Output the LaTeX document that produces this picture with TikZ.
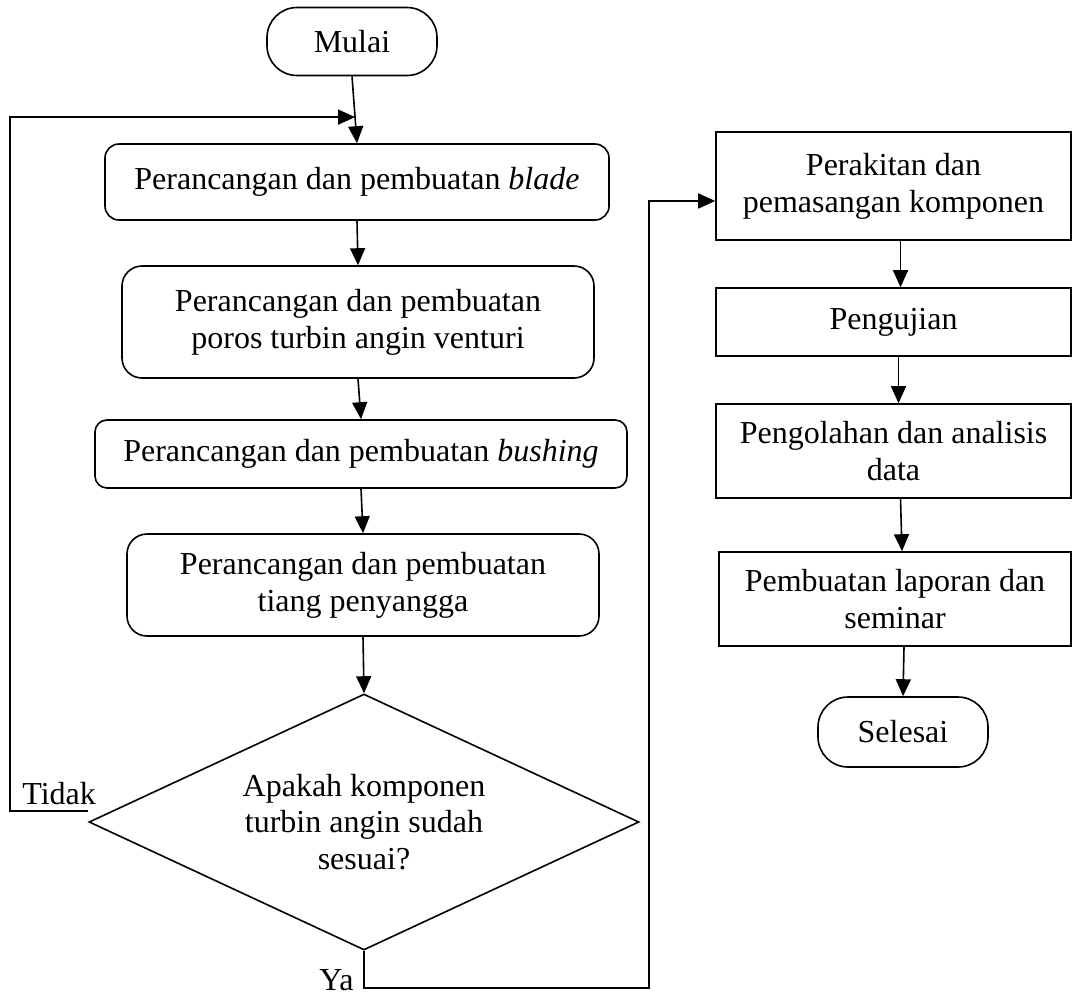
\documentclass[tikz,border=0pt]{standalone}
\usepackage{fontspec}
\setmainfont{Liberation Serif}
\usetikzlibrary{arrows.meta,shapes.geometric,calc}
\begin{document}
\begin{tikzpicture}[x=0.5pt,y=-0.5pt,
  font=\fontsize{16}{18.4}\selectfont,
  base/.style={draw,line width=0.8pt,align=center,inner sep=0pt},
  rbox/.style={base,rounded corners=7pt},
  sbox/.style={base,minimum width=177.5pt},
  term/.style={base,rounded corners=15pt,minimum width=85pt,minimum height=34pt},
  arr/.style={line width=0.8pt,-{Triangle[length=8.5pt,width=7.5pt]}},
  ln/.style={line width=0.8pt}]
\useasboundingbox (0,0) rectangle (1074,996);

% left column
\node[term] (mulai) at (352,41.5) {Mulai};
\node[rbox,minimum width=252pt,minimum height=38pt] (blade) at (357,182) {Perancangan dan pembuatan \textit{blade}};
\node[rbox,rounded corners=10pt,minimum width=236pt,minimum height=56pt] (poros) at (358,322) {Perancangan dan pembuatan\\poros turbin angin venturi};
\node[rbox,rounded corners=6pt,minimum width=266pt,minimum height=34pt] (bush) at (361,454) {Perancangan dan pembuatan \textit{bushing}};
\node[rbox,rounded corners=10pt,minimum width=236pt,minimum height=51pt] (tiang) at (363,585) {Perancangan dan pembuatan\\tiang penyangga};
\node[base,diamond,aspect=2.15,minimum width=275pt,minimum height=128pt] (dec) at (364,822) {Apakah komponen\\turbin angin sudah\\sesuai?};

% right column
\node[sbox,minimum height=54pt] (rakit) at (893.5,186) {Perakitan dan\\pemasangan komponen};
\node[sbox,minimum height=34pt] (uji) at (893.5,322) {Pengujian};
\node[sbox,minimum height=47pt] (olah) at (893.5,451) {Pengolahan dan analisis\\data};
\node[sbox,minimum width=176pt,minimum height=47pt] (lapor) at (895,599) {Pembuatan laporan dan\\seminar};
\node[term,minimum height=35pt] (selesai) at (903,732) {Selesai};

% labels
\node[anchor=base west,inner sep=0pt] (tidak) at (22,804) {Tidak};
\node[anchor=base west,inner sep=0pt] (ya) at (319,990) {Ya};

% helper coordinates
\coordinate (join) at ($(mulai.south)!0.61!(blade.north)$);
\coordinate (tdk) at (88,811);
\coordinate (tl) at (10,811);
\coordinate (yaturn) at (649,988);
\coordinate (yatop) at (649,201);

% connectors
\draw[arr] (mulai.south) -- (blade.north);
\draw[arr] (blade.south) -- (poros.north);
\draw[arr] (poros.south) -- (bush.north);
\draw[arr] (bush.south) -- (tiang.north);
\draw[arr] (tiang.south) -- (dec.north);
\draw[arr] (tdk) -- (tl) |- (join);
\draw[arr] (dec.south) |- (yaturn) -- (yatop) -- (yatop -| rakit.west);
\draw[arr] ([xshift=3.5pt]rakit.south) -- ([xshift=3.5pt]uji.north);
\draw[arr] ([xshift=2.5pt]uji.south) -- ([xshift=2.5pt]olah.north);
\draw[arr] ([xshift=3.5pt]olah.south) -- ([xshift=3.5pt]lapor.north);
\draw[arr] ([xshift=4.5pt]lapor.south) -- (selesai.north);
\end{tikzpicture}
\end{document}
